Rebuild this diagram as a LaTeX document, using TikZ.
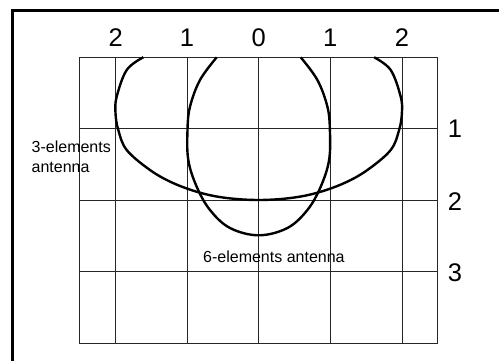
\documentclass[tikz,border=0pt]{standalone}
\usepackage{fontspec}
\setmainfont{Liberation Sans}
\begin{document}
\begin{tikzpicture}[x=1pt,y=-1pt,
  gridline/.style={line width=1pt,draw=black!85},
  pattern/.style={line width=2.4pt,draw=black,line join=round},
  bignum/.style={font=\fontsize{25.5}{30}\selectfont,inner sep=0pt},
  smalltext/.style={font=\fontsize{16}{20}\selectfont,inner sep=0pt,align=left}]
\useasboundingbox (0,0) rectangle (499,361);
% frame
\draw[line width=3pt] (12.5,380) -- (12.5,10.3) -- (520,10.3);
% grid
\foreach \x in {115.7,187,258.7,330.3,402} \draw[gridline] (\x,57.3) -- (\x,343);
\foreach \y in {128.7,200.3,271.7} \draw[gridline] (79.7,\y) -- (437.7,\y);
\draw[gridline] (79.7,57.3) rectangle (437.7,343);
% column labels
\node[bignum,anchor=base] (c1) at (115.7,47) {2};
\node[bignum,anchor=base] (c2) at (187,47) {1};
\node[bignum,anchor=base] (c3) at (258.7,47) {0};
\node[bignum,anchor=base] (c4) at (330.3,47) {1};
\node[bignum,anchor=base] (c5) at (402,47) {2};
% row labels
\node[bignum] (r1) at (455,129) {1};
\node[bignum] (r2) at (455,202) {2};
\node[bignum] (r3) at (455,272.5) {3};
% 3-element pattern
\draw[pattern] plot[smooth,tension=0.6] coordinates {
 (143.3,57.3) (126.7,70) (116.7,96.7) (115.5,113) (118.3,130) (126.7,150)
 (150,170) (173,183) (200,192.7) (226.7,198) (258.7,200)
 (290.7,198) (317.4,192.7) (344.4,183) (367.4,170) (390.7,150)
 (399.1,130) (401.9,113) (400.7,96.7) (390.7,70) (374.1,57.3)};
% 6-element pattern
\draw[pattern] plot[smooth,tension=0.6] coordinates {
 (216.7,57.3) (200,80) (190,106.7) (187.5,130) (188.3,160) (196.7,186.7)
 (210,210) (230,228) (258.7,235.3) (287.4,228) (307.4,210) (320.7,186.7)
 (329.1,160) (329.9,130) (327.4,106.7) (317.4,80) (300.7,57.3)};
% labels
\node[smalltext,anchor=base west] (l3) at (31.5,172) {3-elements\\antenna};
\node[smalltext,anchor=base west] (l6) at (203,262) {6-elements antenna};
\end{tikzpicture}
\end{document}
